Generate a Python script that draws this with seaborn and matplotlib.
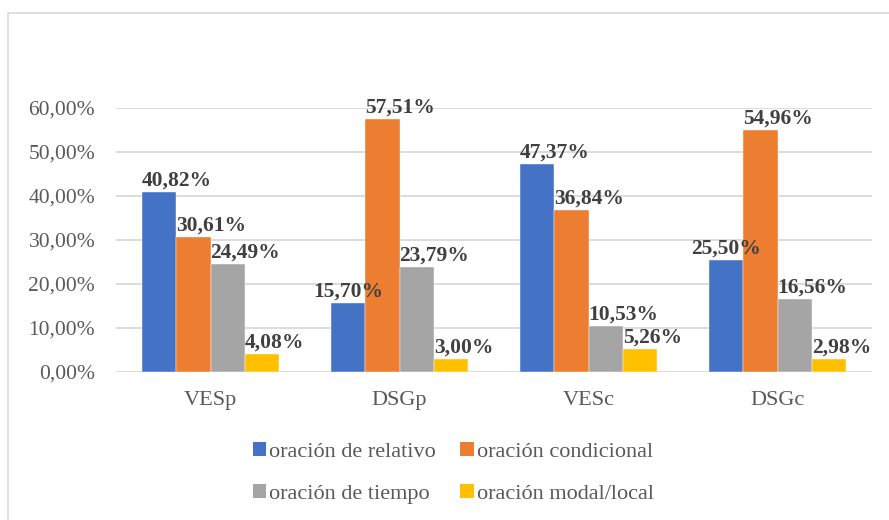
import pandas as pd
import matplotlib
matplotlib.use("Agg")
import matplotlib.pyplot as plt
import seaborn as sns
from matplotlib.patches import Patch, Rectangle
from matplotlib.ticker import FuncFormatter

# ===== DATA =====
CATEGORIES = ["VESp", "DSGp", "VESc", "DSGc"]
SERIES = ["oración de relativo", "oración condicional",
          "oración de tiempo", "oración modal/local"]
RELATIVO = [40.82, 15.70, 47.37, 25.50]
CONDICIONAL = [30.61, 57.51, 36.84, 54.96]
TIEMPO = [24.49, 23.79, 10.53, 16.56]
MODAL = [4.08, 3.00, 5.26, 2.98]
COLORS = ["#4472C4", "#ED7D31", "#A5A5A5", "#FFC000"]
# ================

rows = []
for name, vals in zip(SERIES, [RELATIVO, CONDICIONAL, TIEMPO, MODAL]):
    for cat, v in zip(CATEGORIES, vals):
        rows.append({"cat": cat, "serie": name, "valor": v})
df = pd.DataFrame(rows)

sns.set_theme(style="white")
plt.rcParams["font.family"] = ["Liberation Serif", "DejaVu Serif"]

fig = plt.figure(figsize=(8.89, 5.20), dpi=100)
ax = fig.add_axes([0.1305, 0.2846, 0.8505, 0.5077])

sns.barplot(data=df, x="cat", y="valor", hue="serie", order=CATEGORIES,
            hue_order=SERIES, palette=COLORS, width=0.725, saturation=1,
            edgecolor="white", linewidth=0.3, legend=False, ax=ax)

ax.set_ylim(0, 60)
ax.set_yticks(range(0, 61, 10))
ax.yaxis.set_major_formatter(FuncFormatter(lambda v, p: f"{v:.2f}%".replace(".", ",")))
ax.grid(axis="y", color="#d9d9d9", linewidth=1.3)
ax.set_axisbelow(True)
for s in ax.spines.values():
    s.set_visible(False)
ax.set_xlabel("")
ax.set_ylabel("")
ax.tick_params(axis="y", length=0, pad=15, labelsize=15.5, labelcolor="#595959")
ax.tick_params(axis="x", length=0, pad=14, labelsize=16, labelcolor="#595959")
ax.set_xlim(-0.5, 3.5)

# data labels
for i, cont in enumerate(ax.containers):
    for j, bar in enumerate(cont):
        v = bar.get_height()
        txt = f"{v:.2f}%".replace(".", ",")
        x_left = bar.get_x()
        ha, x = "left", x_left
        if i == 0 and CONDICIONAL[j] > v:
            ha, x = "center", x_left + bar.get_width() / 2
        ax.annotate(txt, (x, v), xytext=(0, 1), textcoords="offset points",
                    ha=ha, va="bottom", fontsize=15.5, fontweight="bold",
                    color="#404040", annotation_clip=False)

# legend filled row by row (matplotlib fills columns first)
handles = [Patch(facecolor=c, edgecolor="none") for c in COLORS]
order = [0, 2, 1, 3]
fig.legend([handles[k] for k in order], [SERIES[k] for k in order],
           loc="center", bbox_to_anchor=(0.510, 0.090),
           ncol=2, frameon=False, fontsize=16, labelcolor="#595959",
           handlelength=0.6, handleheight=0.6, handletextpad=0.15,
           columnspacing=1.1, labelspacing=1.0)

# chart border
fig.patches.append(Rectangle((8, -10), 900, 517, transform=None, fill=False,
                             edgecolor="#d9d9d9", linewidth=1.2))

fig.savefig("out.png", dpi=100)
